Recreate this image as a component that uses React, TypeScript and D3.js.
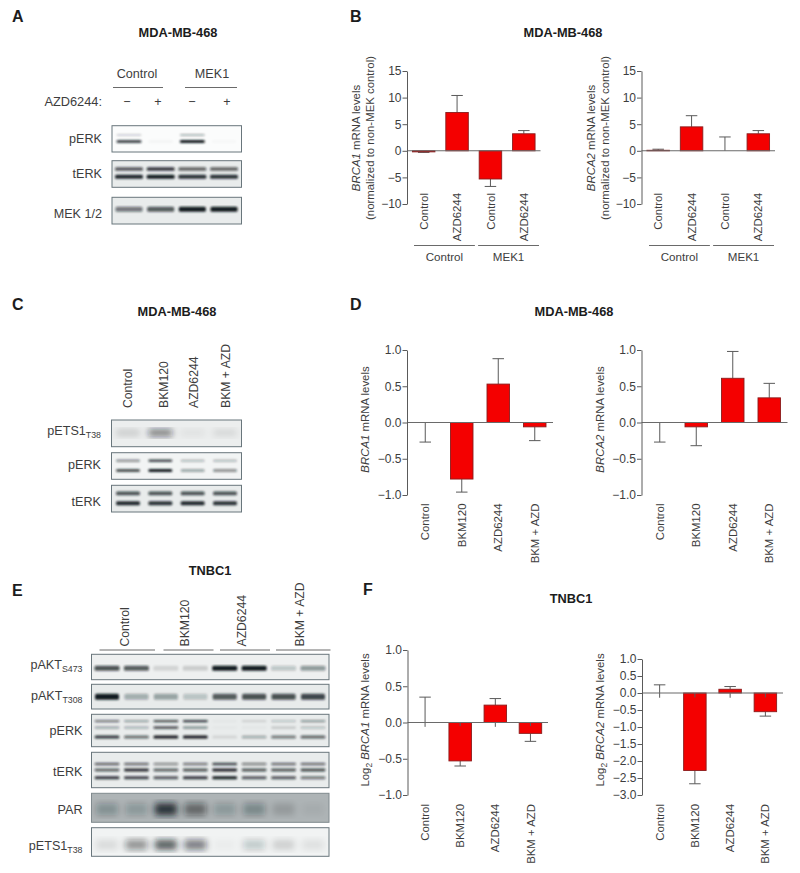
import { useRef, useEffect } from "react";
import * as d3 from "d3";

const font = "'Liberation Sans', Arial, sans-serif";
const ink = "#3d3d3d";

// bar charts
const lanesB = ["Control", "AZD6244", "Control", "AZD6244"];
const lanesDrug = ["Control", "BKM120", "AZD6244", "BKM + AZD"];
const groupsB = ["Control", "MEK1"];

const ticksB = [-10, -5, 0, 5, 10, 15];
const ticksUnit = [-1, -0.5, 0, 0.5, 1];
const ticksF2 = [-3, -2.5, -2, -1.5, -1, -0.5, 0, 0.5, 1];

const b1Values = [-0.2, 7.2, -5.3, 3.2];
const b1Errors = [-0.3, 10.4, -6.7, 3.8];
const b2Values = [0.1, 4.5, 0, 3.2];
const b2Errors = [0.3, 6.6, 2.6, 3.8];
const d1Values = [0, -0.78, 0.53, -0.06];
const d1Errors = [-0.27, -0.96, 0.88, -0.25];
const d2Values = [0, -0.06, 0.61, 0.34];
const d2Errors = [-0.27, -0.32, 0.98, 0.54];
const f1Values = [0, -0.53, 0.24, -0.15];
const f1Errors = [0.35, -0.6, 0.33, -0.26];
const f1Stubs = [-0.06, -0.05, -0.06, -0.05];
const f2Values = [0, -2.28, 0.11, -0.55];
const f2Errors = [0.24, -2.67, 0.19, -0.68];
const f2Stubs = [-0.14, -0.13, -0.14, -0.13];

// blot band intensities per lane, 0..1
const aPerkUpper = [0.18, 0, 0.32, 0];
const aPerkLower = [0.8, 0.03, 1, 0.02];
const aTerkUpper = [0.7, 0.85, 0.65, 0.65];
const aTerkLower = [0.95, 1, 0.9, 0.9];
const aMek = [0.55, 0.7, 1, 1];

const cEts = [0.15, 0.55, 0.06, 0.1];
const cPerkUpper = [0.45, 0.8, 0.25, 0.25];
const cPerkLower = [0.75, 1, 0.35, 0.45];
const cTerkUpper = [0.75, 0.75, 0.75, 0.75];
const cTerkLower = [0.95, 0.9, 0.95, 0.9];

const eS473 = [0.75, 0.7, 0.12, 0.15, 1, 1, 0.2, 0.4];
const eT308 = [1, 0.3, 0.35, 0.2, 0.7, 0.75, 0.75, 0.8];
const ePerkTop = [0.55, 0.35, 0.75, 0.85, 0.03, 0.12, 0.2, 0.4];
const ePerkMid = [0.3, 0.25, 0.7, 0.4, 0.02, 0.03, 0.15, 0.2];
const ePerkLow = [0.85, 0.6, 1, 1, 0.1, 0.3, 0.55, 0.65];
const eTerkTop = [0.65, 0.6, 0.45, 0.55, 0.8, 0.5, 0.6, 0.6];
const eTerkMid = [0.65, 0.9, 0.65, 0.7, 0.95, 0.7, 0.7, 0.75];
const eTerkLow = [0.85, 0.8, 0.7, 0.85, 1, 0.7, 0.7, 0.55];
const ePar = [0.25, 0.2, 0.85, 0.5, 0.2, 0.3, 0.15, 0.05];
const eEts = [0.1, 0.45, 0.7, 0.55, 0.03, 0.2, 0.15, 0.08];

function RotText({ x, y, children, anchor = "end", size = 11.4 }: any) {
  return (
    <text
      transform={`translate(${x},${y}) rotate(-90)`}
      textAnchor={anchor}
      dy="0.36em"
      fontSize={size}
      fill={ink}
    >
      {children}
    </text>
  );
}

function BarPanel({ x0, x1, top, bottom, domain, ticks, labels, values, errors, stubs, labelY }: any) {
  const ref = useRef<SVGGElement>(null);
  const x = d3.scaleBand().domain(d3.range(labels.length).map(String)).range([x0, x1]);
  const y = d3.scaleLinear().domain(domain).range([bottom, top]);
  const barW = 22.5;
  const capW = 11.5;

  useEffect(() => {
    const axis = d3
      .axisLeft(y)
      .tickValues(ticks)
      .tickSize(4.5)
      .tickPadding(1)
      .tickSizeOuter(0)
      .tickFormat(d3.format(domain[1] > 5 ? "d" : ".1f") as any);
    const g = d3.select(ref.current).call(axis as any);
    g.selectAll("path,line").attr("stroke", "#5a5a5a");
    g.selectAll("text").attr("fill", ink).attr("font-size", 12).attr("font-family", font);
  }, []);

  return (
    <g>
      {labels.map((l: string, i: number) => {
        const cx = x(String(i))! + x.bandwidth() / 2;
        return (
          <g key={i}>
            <line x1={cx} x2={cx} y1={y(values[i])} y2={y(errors[i])} stroke="#5a5a5a" />
            <line x1={cx - capW / 2} x2={cx + capW / 2} y1={y(errors[i])} y2={y(errors[i])} stroke="#5a5a5a" />
            {values[i] !== 0 && (
              <rect
                x={cx - barW / 2}
                width={barW}
                y={Math.min(y(values[i]), y(0))}
                height={Math.abs(y(values[i]) - y(0))}
                fill="#f40000"
                stroke="#8a1c1c"
                strokeWidth={0.9}
              />
            )}
            {stubs && <line x1={cx} x2={cx} y1={y(0)} y2={y(stubs[i])} stroke="#5a5a5a" />}
            <RotText x={cx} y={labelY}>
              {l}
            </RotText>
          </g>
        );
      })}
      <line x1={x0} x2={x1} y1={y(0)} y2={y(0)} stroke="#6a6a6a" strokeWidth={1.1} />
      <g ref={ref} transform={`translate(${x0},0)`} />
    </g>
  );
}

function GroupBrackets({ x0, y }: any) {
  const g = d3.scaleBand().domain(groupsB).range([x0, x0 + 125]).paddingInner(0.05);
  return (
    <g>
      {groupsB.map((name) => (
        <g key={name}>
          <line x1={g(name)} x2={g(name)! + g.bandwidth()} y1={y} y2={y} stroke="#6a6a6a" />
          <text x={g(name)! + g.bandwidth() / 2} y={y + 15} textAnchor="middle" fontSize={11.6} fill={ink}>
            {name}
          </text>
        </g>
      ))}
    </g>
  );
}

function Blot({ id, x0, x1, top, bottom, lanes, rows, bg = "#e9ecec", label, sub, labelX, labelY, laneW, blur = "b1", stroke = "#69767c" }: any) {
  const lane = d3.scalePoint<number>().domain(d3.range(rows[0].vals.length)).range(lanes);
  const dark = d3.scaleLinear().domain([0, 1]).range([0, 0.98]);
  const h = bottom - top;
  return (
    <g>
      <clipPath id={id}>
        <rect x={x0} y={top} width={x1 - x0} height={h} />
      </clipPath>
      <rect x={x0} y={top} width={x1 - x0} height={h} fill={bg} />
      <g clipPath={`url(#${id})`}>
        <g filter={`url(#${blur})`}>
          {rows.map((r: any, ri: number) =>
            r.vals.map((v: number, i: number) => (
              <rect
                key={`${ri}-${i}`}
                x={lane(i)! - laneW / 2}
                width={laneW}
                y={top + r.at * h - r.thick / 2}
                height={r.thick}
                rx={1.5}
                fill="#10181d"
                opacity={dark(v)}
              />
            ))
          )}
        </g>
      </g>
      <rect x={x0} y={top} width={x1 - x0} height={h} fill="none" stroke={stroke} strokeWidth={1} />
      <text x={labelX} y={labelY} textAnchor="end" fontSize={12.6} fill={ink}>
        {label}
        {sub && (
          <tspan fontSize={8.8} dy={3}>
            {sub}
          </tspan>
        )}
      </text>
    </g>
  );
}

const Panel = ({ x, y, children }: any) => (
  <text x={x} y={y} fontSize={16} fontWeight="bold" fill="#1c1c1c">
    {children}
  </text>
);
const Title = ({ x, y, children }: any) => (
  <text x={x} y={y} textAnchor="middle" fontSize={12.8} fontWeight="bold" fill="#1c1c1c">
    {children}
  </text>
);

export default function App() {
  const lanesA = [129, 224];
  const lanesE = [107, 313];
  return (
    <svg
      width={800}
      height={873}
      fontFamily={font}
      style={{ position: "absolute", left: 0, top: 0, background: "#fff" }}
    >
      <defs>
        <filter id="b1" x="-10%" y="-30%" width="120%" height="160%">
          <feGaussianBlur stdDeviation="1" />
        </filter>
        <filter id="b3" x="-10%" y="-30%" width="120%" height="160%">
          <feGaussianBlur stdDeviation="3" />
        </filter>
      </defs>

      {/* A */}
      <Panel x={12} y={22}>A</Panel>
      <Title x={178} y={37}>MDA-MB-468</Title>
      <text x={137} y={78} textAnchor="middle" fontSize={12.6} fill={ink}>Control</text>
      <text x={212} y={78} textAnchor="middle" fontSize={12.6} fill={ink}>MEK1</text>
      <line x1={113} x2={163} y1={87.5} y2={87.5} stroke="#6a6a6a" />
      <line x1={185} x2={237} y1={87.5} y2={87.5} stroke="#6a6a6a" />
      <text x={102} y={106} textAnchor="end" fontSize={12.8} fill={ink}>AZD6244:</text>
      {["−", "+", "−", "+"].map((s, i) => (
        <text key={i} x={[127, 158, 192, 227][i]} y={106} textAnchor="middle" fontSize={12.6} fill={ink}>{s}</text>
      ))}
      <Blot id="a1" x0={112} x1={241.5} top={125.7} bottom={152} lanes={lanesA} laneW={25} bg="#fbfcfc" label="pERK" labelX={102} labelY={143}
        rows={[{ at: 0.35, thick: 2, vals: aPerkUpper }, { at: 0.6, thick: 3, vals: aPerkLower }]} />
      <Blot id="a2" x0={112} x1={241.5} top={160.7} bottom={187.3} lanes={lanesA} laneW={28} label="tERK" labelX={102} labelY={178}
        rows={[{ at: 0.31, thick: 3.4, vals: aTerkUpper }, { at: 0.6, thick: 4, vals: aTerkLower }]} />
      <Blot id="a3" x0={112} x1={241.5} top={197.3} bottom={224} lanes={lanesA} laneW={27} label="MEK 1/2" labelX={102} labelY={218}
        rows={[{ at: 0.45, thick: 5, vals: aMek }]} />

      {/* B */}
      <Panel x={350} y={22}>B</Panel>
      <Title x={563} y={37}>MDA-MB-468</Title>
      <BarPanel x0={407} x1={540.5} top={71} bottom={204} domain={[-10, 15]} ticks={ticksB} labels={lanesB} values={b1Values} errors={b1Errors} labelY={193} />
      <BarPanel x0={641.5} x1={775} top={71} bottom={204} domain={[-10, 15]} ticks={ticksB} labels={lanesB} values={b2Values} errors={b2Errors} labelY={193} />
      <GroupBrackets x0={414} y={245.5} />
      <GroupBrackets x0={649} y={245.5} />
      <RotText x={356} y={138} anchor="middle"><tspan fontStyle="italic">BRCA1</tspan> mRNA levels</RotText>
      <RotText x={370} y={138} anchor="middle">(normalized to non-MEK control)</RotText>
      <RotText x={591} y={138} anchor="middle"><tspan fontStyle="italic">BRCA2</tspan> mRNA levels</RotText>
      <RotText x={605} y={138} anchor="middle">(normalized to non-MEK control)</RotText>

      {/* C */}
      <Panel x={12} y={310}>C</Panel>
      <Title x={177} y={316}>MDA-MB-468</Title>
      {lanesDrug.map((l, i) => (
        <RotText key={l} x={[128, 164, 194, 226][i]} y={408} anchor="start" size={12.2}>{l}</RotText>
      ))}
      <Blot id="c1" x0={111.5} x1={241.5} top={420} bottom={446.7} lanes={[128, 225]} laneW={24} blur="b3" bg="#eceeee" label="pETS1" sub="T38" labelX={101} labelY={435}
        rows={[{ at: 0.48, thick: 7, vals: cEts }]} />
      <Blot id="c2" x0={111.5} x1={241.5} top={452.7} bottom={479.3} lanes={[128, 225]} laneW={24} bg="#f2f4f4" label="pERK" labelX={101} labelY={469}
        rows={[{ at: 0.3, thick: 2.6, vals: cPerkUpper }, { at: 0.67, thick: 3, vals: cPerkLower }]} />
      <Blot id="c3" x0={111.5} x1={241.5} top={485.3} bottom={512} lanes={[128, 225]} laneW={24} label="tERK" labelX={101} labelY={506}
        rows={[{ at: 0.3, thick: 3.8, vals: cTerkUpper }, { at: 0.67, thick: 4, vals: cTerkLower }]} />

      {/* D */}
      <Panel x={350} y={310}>D</Panel>
      <Title x={574} y={316}>MDA-MB-468</Title>
      <BarPanel x0={407} x1={553} top={350} bottom={495} domain={[-1, 1]} ticks={ticksUnit} labels={lanesDrug} values={d1Values} errors={d1Errors} labelY={503.5} />
      <BarPanel x0={641.5} x1={787.5} top={350} bottom={495} domain={[-1, 1]} ticks={ticksUnit} labels={lanesDrug} values={d2Values} errors={d2Errors} labelY={503.5} />
      <RotText x={365} y={419.5} anchor="middle"><tspan fontStyle="italic">BRCA1</tspan> mRNA levels</RotText>
      <RotText x={600} y={419.5} anchor="middle"><tspan fontStyle="italic">BRCA2</tspan> mRNA levels</RotText>

      {/* E */}
      <Panel x={12} y={596}>E</Panel>
      <Title x={210} y={575}>TNBC1</Title>
      {lanesDrug.map((l, i) => (
        <g key={l}>
          <RotText x={[125, 185, 242, 300][i]} y={646.5} anchor="start" size={12.2}>{l}</RotText>
          <line x1={[99.5, 163.5, 220, 276][i]} x2={[155, 213.5, 270, 330.5][i]} y1={650} y2={650} stroke="#6a6a6a" />
        </g>
      ))}
      <Blot id="e1" x0={91.5} x1={329} top={654.3} bottom={679.7} lanes={lanesE} laneW={25} bg="#eef0f0" label="pAKT" sub="S473" labelX={82.5} labelY={669}
        rows={[{ at: 0.55, thick: 5, vals: eS473 }]} />
      <Blot id="e2" x0={91.5} x1={329} top={684.3} bottom={709} lanes={lanesE} laneW={24} bg="#e8ebeb" label="pAKT" sub="T308" labelX={82.5} labelY={700}
        rows={[{ at: 0.5, thick: 6, vals: eT308 }]} />
      <Blot id="e3" x0={91.5} x1={329} top={714.3} bottom={746.7} lanes={lanesE} laneW={25} label="pERK" labelX={82.5} labelY={734.5}
        rows={[
          { at: 0.21, thick: 2.4, vals: ePerkTop },
          { at: 0.41, thick: 2.6, vals: ePerkMid },
          { at: 0.7, thick: 3.2, vals: ePerkLow },
        ]} />
      <Blot id="e4" x0={91.5} x1={329} top={752.3} bottom={787.7} lanes={lanesE} laneW={25} label="tERK" labelX={82.5} labelY={776}
        rows={[
          { at: 0.33, thick: 2.6, vals: eTerkTop },
          { at: 0.5, thick: 2.8, vals: eTerkMid },
          { at: 0.72, thick: 3, vals: eTerkLow },
        ]} />
      <Blot id="e5" x0={91.5} x1={329} top={793.3} bottom={822.3} lanes={lanesE} laneW={22} bg="#aeb4b6" blur="b3" label="PAR" labelX={82.5} labelY={814} stroke="#808a8e"
        rows={[{ at: 0.55, thick: 12, vals: ePar }]} />
      <Blot id="e6" x0={91.5} x1={329} top={827.7} bottom={856.3} lanes={lanesE} laneW={22} bg="#f1f3f3" blur="b3" label="pETS1" sub="T38" labelX={82.5} labelY={850}
        rows={[{ at: 0.6, thick: 10, vals: eEts }]} />

      {/* F */}
      <Panel x={363} y={595}>F</Panel>
      <Title x={571} y={603}>TNBC1</Title>
      <BarPanel x0={407.5} x1={548} top={650} bottom={795} domain={[-1, 1]} ticks={ticksUnit} labels={lanesDrug} values={f1Values} errors={f1Errors} stubs={f1Stubs} labelY={804} />
      <BarPanel x0={642} x1={783} top={659} bottom={795} domain={[-3, 1]} ticks={ticksF2} labels={lanesDrug} values={f2Values} errors={f2Errors} stubs={f2Stubs} labelY={804} />
      <RotText x={365} y={720} anchor="middle">
        Log<tspan fontSize={8.4} dy={3}>2</tspan>
        <tspan dy={-3}> </tspan>
        <tspan fontStyle="italic">BRCA1</tspan> mRNA levels
      </RotText>
      <RotText x={600} y={720} anchor="middle">
        Log<tspan fontSize={8.4} dy={3}>2</tspan>
        <tspan dy={-3}> </tspan>
        <tspan fontStyle="italic">BRCA2</tspan> mRNA levels
      </RotText>
    </svg>
  );
}
